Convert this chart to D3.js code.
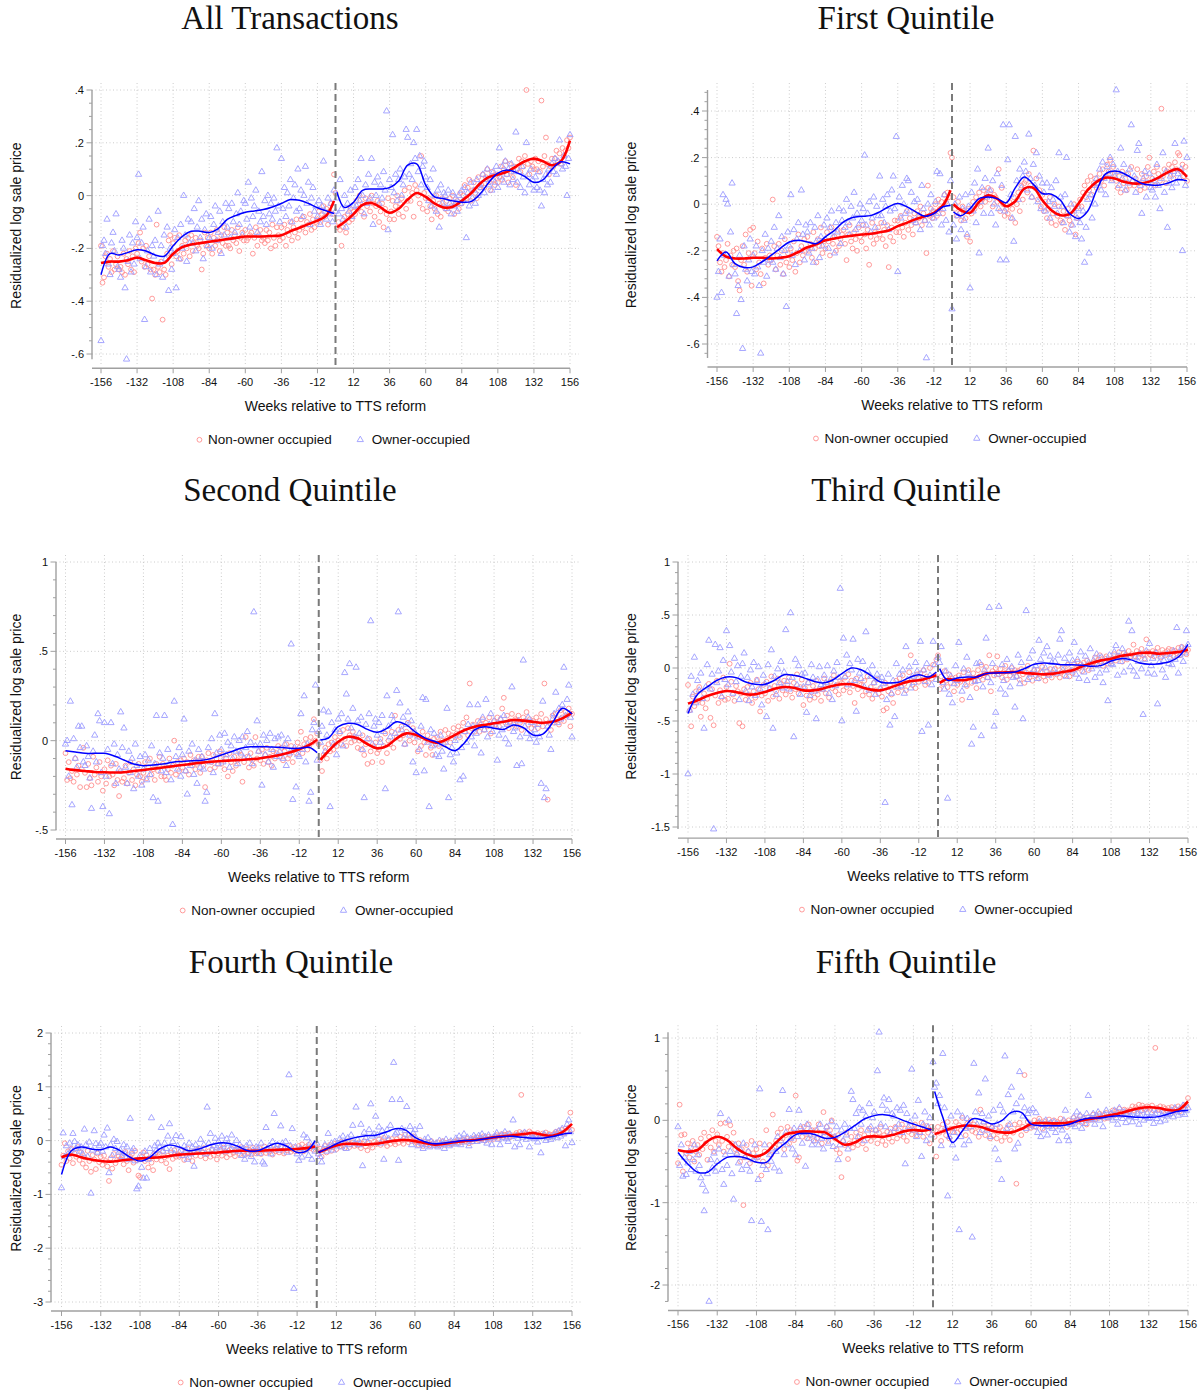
<!DOCTYPE html>
<html>
<head>
<meta charset="utf-8">
<script src="https://cdn.jsdelivr.net/npm/d3@7"></script>
<style>
  body { margin: 0; background: #fff; }
  text { font-family: "Liberation Sans", Arial, Helvetica, sans-serif; fill: #111; }
  .title { font-family: "Liberation Serif", "Times New Roman", serif; font-size: 33px; }
</style>
</head>
<body>
<script>
// weekly means, weeks -156..156, in hundredths of a log point
const weeks = d3.range(-156, 157);
const xTicks = d3.range(-156, 157, 24);
// knots of the local fits, drawn separately on each side of the reform
const fitWeeksPre = [...d3.range(-156, 0, 6), -1];
const fitWeeksPost = [1, ...d3.range(6, 157, 6)];

const titles = ["All Transactions", "First Quintile", "Second Quintile",
                "Third Quintile", "Fourth Quintile", "Fifth Quintile"];
const yTicks = [
  [.4, .2, 0, -.2, -.4, -.6],
  [.4, .2, 0, -.2, -.4, -.6],
  [1, .5, 0, -.5],
  [1, .5, 0, -.5, -1, -1.5],
  [2, 1, 0, -1, -2, -3],
  [1, 0, -1, -2]
];
const yMinor = [.05, .04, .1, .1, .2, .2];

// ---- All transactions
const allNon = [
  -19,-33,-31,-23,-22,-27,-24,-29,-21,-28,-26,-23,
  -28,-27,-29,-22,-30,-24,-26,-21,-28,-23,-29,-20,
  -22,-18,-14,-25,-20,-27,-19,-26,-23,-28,-39,-28,
  -30,-11,-27,-29,-25,-47,-28,-30,-22,-17,-15,-26,
  -18,-16,-23,-21,-15,-24,-19,-22,-17,-20,-16,-23,
  -15,-21,-18,-16,-19,-20,-17,-28,-22,-14,-19,-16,
  -20,-14,-22,-16,-19,-13,-17,-21,-15,-18,-12,-19,
  -14,-19,-20,-13,-17,-15,-18,-12,-21,-16,-14,-17,
  -13,-17,-16,-15,-14,-22,-16,-12,-19,-15,-13,-17,
  -16,-18,-13,-17,-14,-20,-11,-16,-19,-12,-15,-17,
  -12,-16,-11,-19,-13,-15,-10,-17,-12,-14,-9,-16,
  -13,-9,-12,-8,-14,-10,-11,-7,-13,-9,-12,-10,
  -9,-6,-10,-7,-4,-8,-5,-11,-6,-3,-7,8,
  1,
  -12,-10,-13,-19,-12,-8,-14,-7,-10,-5,-9,-6,
  -7,-2,-5,0,-6,-3,-8,-1,-4,-2,-6,0,
  -3,-8,-4,-2,-10,-6,-3,-12,-5,-7,-1,-9,
  -6,-2,-9,-4,0,-7,-3,-1,-8,2,-5,-2,
  3,-2,1,-8,4,2,0,-3,15,-5,1,-1,
  -6,-1,-4,-9,-2,-5,0,-7,-3,-8,-1,-4,
  -5,-2,-6,-1,-4,0,-7,-3,-2,-5,1,-3,
  0,4,-1,3,6,-2,2,5,1,-1,7,3,
  4,8,3,7,10,5,2,9,6,4,8,5,
  7,11,6,10,13,8,5,12,9,7,11,4,
  10,14,9,13,11,15,40,12,8,13,11,10,
  14,10,13,9,36,11,15,22,12,8,11,14,
  11,14,17,13,16,12,18,15,17,21,18,22
];
const allOwn = [
  -55,-19,-17,-22,-9,-26,-30,-18,-14,-21,-7,-27,
  -28,-31,-17,-20,-35,-62,-25,-15,-29,-18,-26,-10,
  -16,8,-24,-18,-12,-47,-27,-21,-9,-29,-19,-23,
  -17,-30,-6,-26,-19,-31,-15,-24,-12,-36,-20,-28,
  -22,-13,-35,-16,-24,-11,-20,0,-15,-25,-9,-18,
  -10,-18,-5,-21,-12,-2,-16,-9,-24,-13,-7,-19,
  -16,-8,-20,-11,-4,-17,-14,-6,-22,-10,-15,-3,
  -12,-5,-16,-3,-10,-14,-7,1,-11,-6,-15,-2,
  -3,-9,5,-12,-1,-8,-4,2,-14,-6,-10,9,
  -8,-2,-11,0,-7,-3,-9,-1,-6,18,-4,-10,
  14,-5,3,-8,1,-4,6,-10,-1,4,-6,10,
  -5,2,-8,0,11,-3,5,-11,-1,3,-6,-4,
  -8,-2,-11,-4,13,-6,-9,-1,-7,-3,-10,2,
  -6,
  -1,-7,6,-5,-9,0,-12,-3,-6,2,-8,-4,
  3,-4,6,-2,14,0,-7,4,-3,8,-1,14,
  -11,5,0,7,-3,4,-1,9,2,32,-13,6,
  3,23,1,8,-2,6,10,0,4,7,25,22,
  8,12,6,20,14,25,9,15,4,11,13,7,
  3,-2,6,-4,10,0,-6,2,-12,4,-3,1,
  0,-5,2,-3,-7,1,-4,-1,-6,0,-3,2,
  -2,3,-16,1,-4,5,-1,2,-3,6,0,4,
  3,8,1,6,10,4,7,2,9,5,11,3,
  18,7,11,5,13,8,10,4,12,6,9,24,
  5,9,3,11,7,1,20,8,4,10,6,2,
  7,3,9,2,-4,6,1,8,4,10,5,12,
  9,14,8,13,21,12,10,15,11,0,14,23
];
const allNonFitPre = [-25.5,-25,-25,-24.5,-23.5,-24.5,-25.5,-25.5,-22,-19.5,-18.5,-18,-17.5,-17,-16.5,-16,-15.5,-15.5,-15.5,-15.3,-15,-13.5,-12.2,-10.8,-9.5,-7.5,-2];
const allNonFitPost = [-12,-10,-7,-3.5,-2.8,-4.5,-6.5,-5,-1.5,1,-.5,-3,-4.5,-4.2,-2,.8,4.5,7,8,9,11,13,14,13,11.5,13,20.8];
const allOwnFitPre = [-30,-22,-22.5,-21.5,-20.5,-21,-22.5,-23,-19,-15.5,-13.5,-13.5,-14,-12.5,-9,-7.5,-6.3,-5.8,-5.3,-4.3,-3,-1.5,-1.8,-3,-4.6,-5.8,-6.8];
const allOwnFitPost = [1.3,-4.5,-2.5,2,2.5,2.5,3,5.5,11.5,12,4,-.5,-1.2,-2,-2.5,-2.3,.5,5,8.5,9.7,8.8,7.2,5,6,10,12.8,12];

// ---- First quintile
const q1Non = [
  -14,-18,-25,-29,-21,-27,-24,-17,-31,-22,-26,-20,
  -27,-19,-33,-37,-24,-18,-26,-13,-29,-21,-11,-35,
  -10,-21,-28,-16,-25,-30,-19,-34,-23,-17,-26,-22,
  -24,2,-18,-28,-22,-17,-26,-20,-30,-15,-25,-21,
  -27,-19,-24,-16,-29,-21,-13,-25,-18,-22,-15,-20,
  -14,-20,-17,-23,-12,-19,-25,-15,-18,-10,-21,-16,
  -19,-12,-16,-22,-10,-17,-14,-20,-11,-18,-15,-13,
  -11,-17,-24,-13,-9,-16,-19,-12,-15,-20,-10,-14,
  -16,-9,-13,-19,-11,-26,-14,-8,-17,-12,-15,-10,
  -13,-8,-15,-11,-18,-9,-27,-14,-10,-16,-7,-12,
  -7,-12,-5,-10,-14,-8,-3,-11,-6,-9,-13,-4,
  -8,-3,-6,-1,-9,-4,-7,-21,8,-5,-2,-6,
  -3,0,-5,2,-2,1,-4,4,1,5,3,22,
  20,
  3,-2,-5,1,-4,-7,-1,-3,-6,-14,-2,-16,
  -4,1,-2,3,0,5,-1,2,6,1,4,7,
  2,6,-1,4,3,1,15,-3,7,0,-5,-2,
  -4,1,-6,-2,3,-8,0,5,-3,8,2,9,
  10,5,13,8,3,23,7,11,2,6,-1,4,
  -3,1,-6,-2,3,-8,-4,0,-9,-5,-1,-7,
  -8,-3,-11,-5,-2,-7,-9,-4,0,-13,-6,-1,
  2,-1,5,8,3,10,6,12,4,9,11,7,
  9,13,10,15,8,12,17,14,19,11,16,13,
  10,7,12,5,14,9,11,6,13,8,16,10,
  8,11,15,9,6,13,10,7,12,16,20,9,
  11,14,8,16,13,10,41,12,15,9,14,17,
  13,16,11,18,15,22,21,14,17,12,16,10
];
const q1Own = [
  -40,-29,-15,-38,4,-22,2,0,-31,-12,9,-26,
  -30,-47,-35,-22,-41,-62,-18,-28,-33,-24,-15,-29,
  -22,-30,-18,-27,-35,-64,-20,-25,-13,-31,-19,-24,
  -16,-25,-10,-28,-19,-5,-23,-14,-30,-20,-44,-12,
  -18,4,-22,-11,-26,-15,-8,-20,6,-13,-24,-9,
  -12,-21,-8,-19,-25,-10,-16,-5,-23,-14,-18,-9,
  -15,-6,-19,-10,-3,-14,-21,-8,-12,-2,-17,-7,
  -3,-10,2,-8,-13,-1,-6,5,-11,-4,-9,0,
  -7,-2,21,-9,-4,1,-12,-6,3,-10,-1,-5,
  12,-5,2,-8,-1,4,-11,-3,6,12,-2,29,
  -29,3,-6,8,0,-4,11,10,-3,5,-7,1,
  -8,2,-5,-11,8,-2,-7,-66,0,-9,4,-3,
  -6,1,14,-4,13,-9,-2,4,-7,0,-12,10,
  -45,
  -9,0,-15,-5,3,-11,-2,-7,4,-13,-1,-36,
  5,-3,9,-8,15,-21,1,7,-4,11,3,24,
  6,-4,10,0,-9,13,-2,-24,8,34,-3,-24,
  19,34,4,-6,-16,29,10,2,15,7,12,18,
  14,6,30,11,3,17,8,22,1,12,-2,9,
  5,-3,9,1,-6,7,2,-1,10,-4,22,3,
  -1,-8,4,20,-5,-12,0,-9,-3,-14,-6,-2,
  -8,-15,-3,-25,-10,2,-21,4,-6,8,0,11,
  9,15,6,18,11,4,16,13,20,10,17,12,
  49,14,8,24,11,17,6,13,9,15,34,10,
  12,5,23,26,8,-4,11,14,3,9,13,7,
  6,10,3,17,8,-2,11,22,5,14,-10,9,
  12,7,14,26,9,13,11,15,-20,27,8,20
];
const q1NonFitPre = [-19.3,-22.5,-23.3,-23.3,-23,-23,-23.3,-23,-22.3,-20.5,-18.5,-17.2,-15.5,-14.7,-14,-13.5,-13,-12.7,-12,-11.3,-9.4,-8,-6.4,-5.2,-3.7,-.5,6];
const q1NonFitPost = [0,-2.6,-3.7,1,3.8,2.4,-.9,1.3,6.7,7,1.7,-2.6,-4.7,-4.3,.3,6,9.6,11.4,11,9.6,8.9,9,9.9,11.7,13.9,15,11.7];
const q1OwnFitPre = [-24.3,-20.5,-25.5,-27.2,-26.9,-24.7,-21.9,-19,-16.2,-15.5,-16.2,-16.9,-14,-11.2,-7.6,-5.7,-5.2,-4.9,-3.3,-1.1,.3,-1.1,-3.3,-5.2,-4,-1.1,-.4];
const q1OwnFitPost = [-3.3,-5,-1.9,2.4,3.1,2.4,.6,7,11.7,8.5,4.6,4.3,1.7,-4,-6.1,-3,6,13,14.2,13.2,11,8.9,8.2,8.2,9.2,10.6,10];

// ---- Second quintile
const q2Non = [
  -7,-22,-12,-21,-17,-23,-10,-19,-14,-26,-16,-4,
  -18,-26,-13,-21,-25,-9,-19,-15,-23,-12,-20,-28,
  -16,-24,-11,-20,-14,-19,-25,-13,-22,-31,-17,-23,
  -21,-14,-24,-18,-12,-22,-16,-25,-19,-13,-20,-23,
  -18,-12,-21,-15,-10,-19,-16,-22,-13,-17,-9,-20,
  -13,-20,-22,-16,-10,-18,-14,0,-19,-12,-17,-11,
  -15,-10,-17,-12,-19,-8,-14,-11,-16,-13,-9,-18,
  -9,-14,-26,-11,-7,-16,-12,-8,-15,-10,-13,-6,
  -13,-8,-16,-10,-20,-7,-12,-17,-9,-14,-11,-6,
  -8,-23,-12,2,-9,-15,-7,-11,-14,2,-10,-6,
  -11,-5,-13,-8,-4,-12,-9,-14,-6,-10,-7,-3,
  -9,-4,-11,-6,-2,-10,-8,-3,-12,-5,-7,-1,
  -4,5,-7,-2,1,-5,-3,2,-1,12,0,4,
  -2,
  -11,-17,-8,-4,-10,-2,-6,-1,-5,2,-3,0,
  4,-2,6,1,-3,7,3,-1,5,0,2,-4,
  0,-5,3,-8,-2,-13,1,-6,-12,-3,-1,-7,
  -5,1,-12,-3,4,-7,0,-2,5,-4,14,2,
  6,1,8,3,-2,5,10,0,4,7,-1,3,
  -6,2,-3,5,-1,-8,3,0,-4,-8,1,-2,
  2,-3,5,0,-2,6,1,4,-1,3,7,2,
  4,8,2,6,10,5,13,3,32,7,9,5,
  7,11,5,9,12,6,10,8,13,4,9,11,
  9,13,8,12,18,24,10,14,7,11,15,9,
  12,8,14,10,6,13,11,16,9,12,7,11,
  9,13,7,11,15,8,32,12,-33,10,6,14,
  10,15,12,9,17,13,11,16,14,18,8,15
];
const q2Own = [
  -2,0,-20,22,-36,1,-10,-15,8,-4,8,-12,
  -14,-3,-9,-21,-38,-6,3,-12,15,11,-18,-37,
  10,-20,-5,-41,10,-13,-2,-24,-8,-16,16,-4,
  7,-15,-24,-6,-18,-10,-27,-2,-14,-20,-9,-25,
  -16,-8,-22,-11,-19,-3,-32,-13,14,-34,-7,-17,
  -10,14,-18,-5,-13,-22,-47,22,-9,-16,-4,-20,
  -8,12,-17,-30,-6,-14,-2,-19,-11,-24,-5,-15,
  -9,-16,-34,-29,-4,-12,1,-18,15,-7,-13,3,
  -5,-12,4,-8,-1,-15,-3,-10,2,-6,-13,0,
  -7,2,-10,-4,5,-9,-1,-13,72,-3,11,-6,
  -2,-25,3,-8,0,-12,4,-5,-15,1,-9,2,
  -6,3,-10,-2,-14,1,-7,54,-33,-4,-26,-8,
  -9,15,-5,25,-12,-2,-34,-29,6,10,31,-11,
  5,
  -1,8,17,-6,3,16,-37,10,-2,6,-8,12,
  5,15,-3,38,26,12,43,7,18,2,41,11,
  4,13,-5,-32,9,1,15,67,-2,8,12,3,
  10,-1,14,5,-27,25,8,2,14,11,4,28,
  72,21,6,13,-2,9,16,3,11,-12,5,-18,
  2,-5,8,24,-17,23,-1,-37,6,-3,4,-8,
  -2,-9,3,-6,-16,-1,18,-32,-8,-4,-12,0,
  -7,3,-22,-4,-20,5,-1,9,20,2,8,-3,
  4,20,10,-7,13,6,23,2,9,15,5,11,
  8,-11,3,12,6,14,1,9,-2,10,30,5,
  7,-14,11,2,-13,45,8,4,13,1,10,3,
  6,-1,9,2,-24,22,-32,-27,8,3,-5,12,
  15,27,10,18,12,20,41,14,23,31,13,2
];
const q2NonFitPre = [-15.7,-16.5,-17,-17.5,-17.7,-17.8,-17.7,-17,-16.4,-15.7,-15,-14.3,-13.6,-13,-12.3,-11.8,-11.4,-11.1,-10.8,-10.4,-9.8,-9,-8,-6.6,-4.8,-2.5,.5];
const q2NonFitPost = [-10.8,-5.8,-.6,2.2,1.3,-1.9,-4.3,-3,1.3,4.1,3.2,.7,-1.1,.4,3.2,6,7.8,8.8,9.7,10.6,11.6,11.2,10.6,10,10.6,12.5,15.7];
const q2OwnFitPre = [-5.6,-6.3,-7.1,-7.1,-7.1,-8.6,-10.8,-13.1,-14,-13.6,-13.1,-12.1,-11.6,-11.2,-11,-9.9,-8,-6.2,-4.3,-3.4,-3.4,-3.5,-3.7,-4.3,-4.3,-3.7,-6.7];
const q2OwnFitPost = [.4,1.5,7.8,9.7,9.1,6.3,4.7,6.9,10.6,8.8,4.5,1.3,-.6,-3.4,-5.6,-1,6,7.8,6.9,6.3,8.8,7.3,3.2,3.7,10,18.1,14.9];

// ---- Third quintile
const q3Non = [
  -16,-40,-55,-27,-36,-22,-31,-18,-46,-33,-24,-38,
  -29,-15,-47,-20,-54,-26,-12,-33,-21,-28,-9,-30,
  -18,-29,4,-13,-25,-31,-17,-22,-52,-24,-55,-20,
  -30,-18,-25,-14,-33,-22,-28,-11,-20,-41,-26,-16,
  -24,-13,-31,-19,-8,-27,-17,-22,-10,-29,-15,-21,
  -12,-25,-16,-9,-22,-28,-14,-20,-6,-24,-18,-11,
  -35,-19,-26,-14,-30,-23,-17,-28,-12,-25,-20,-31,
  -20,-10,-24,-15,-28,-13,-19,-7,-22,-16,-25,-12,
  -14,-21,-9,-18,-6,-23,-12,-17,-33,-10,-20,-15,
  -16,-26,-12,-22,-8,-25,-18,-29,-14,-21,-11,-24,
  -19,-27,-40,-14,-38,-22,-16,-25,-33,-18,-12,-23,
  -10,-18,-7,-15,-21,-12,-4,12,-16,-9,-19,-6,
  -13,-5,-11,-2,-16,-8,-14,0,-10,3,-7,8,
  12,
  -20,-8,-15,-3,-12,-18,-6,-14,-10,-22,-9,-16,
  -7,-13,-30,-4,-11,-17,-2,-9,-14,-5,-12,-19,
  -2,-8,3,-11,-5,1,-9,12,-22,-3,-7,0,
  11,-6,-1,-9,-4,2,-11,-3,-7,0,-5,-2,
  -8,-3,-11,-1,-6,-14,-4,2,-9,-5,-12,-2,
  -7,-2,-10,-4,1,-8,-12,-3,-6,-1,-9,-5,
  -1,-6,2,-9,-4,0,-7,-3,3,-8,-2,-5,
  4,-1,6,0,3,-3,5,1,7,-2,4,2,
  5,10,3,8,12,6,2,9,11,4,8,6,
  9,13,7,11,15,10,6,14,12,8,16,11,
  13,22,11,16,10,14,18,12,9,27,15,13,
  12,16,11,15,19,13,10,17,14,12,16,18,
  13,17,11,16,14,19,12,20,15,18,13,17
];
const q3Own = [
  -100,-40,-8,-25,10,-33,-12,-21,-5,-29,-57,-18,
  3,26,-20,-6,-152,22,-14,-3,19,-27,7,-11,
  35,-16,21,-4,-24,9,-13,2,-30,-8,4,14,
  -22,-9,-31,-2,-18,5,-26,-12,1,-20,-35,-7,
  -15,-46,3,-20,17,-57,-8,-25,-1,-14,6,-19,
  -4,36,-13,-20,52,-9,-65,8,-16,2,-25,-6,
  -18,-5,-42,-14,-26,3,-9,-22,-48,-11,1,-16,
  -20,-7,-14,2,-24,-11,-30,-3,-17,5,-9,75,
  -50,28,-8,12,-16,4,-2,27,-12,-41,8,-5,
  -10,6,-18,34,-3,-21,-8,2,-14,-25,-6,-11,
  -20,-9,-15,-127,-30,-6,-54,-24,-12,-46,4,-18,
  -6,-17,-2,-24,20,-11,1,-19,-8,-14,5,-3,
  -9,25,-60,-2,-13,4,-54,-7,-16,25,3,-11,
  10,
  5,20,-14,-20,-3,-123,-25,-8,-33,-15,2,-12,
  24,-10,-22,-1,-16,10,-5,-28,-72,-56,-13,4,
  -12,5,-64,-18,-2,28,-9,57,-14,4,-55,-42,
  -6,58,-20,3,-12,-25,8,-3,-18,1,-9,-37,
  -8,12,-15,5,-48,-3,54,-11,9,-6,16,-2,
  2,-10,26,8,-4,14,0,20,-7,11,5,-2,
  6,-5,12,27,35,-2,9,-8,4,14,-3,7,
  24,-6,8,-10,15,2,-4,11,-12,5,18,-1,
  7,-9,13,2,-5,10,-14,6,-2,-31,12,4,
  3,15,21,-7,11,6,18,-4,12,9,44,1,
  35,-3,10,-8,6,13,-1,-44,8,16,-5,23,
  2,9,-6,14,-34,5,11,-2,7,-9,13,4,
  10,3,16,8,38,-5,12,19,6,14,35,22
];
const q3NonFitPre = [-33.6,-30.5,-26.4,-23.6,-21.7,-22.6,-24.8,-24.8,-22.6,-19.5,-17.9,-18.6,-21.1,-21.1,-19.5,-17,-15.4,-15.4,-17.9,-20.4,-21.1,-18.6,-15.4,-12.6,-11.6,-9.4,-6.9];
const q3NonFitPost = [-14,-10.5,-11.6,-11,-8.5,-5.3,-4.4,-4.1,-3.8,-4.7,-5.3,-6,-5.3,-3.8,-2.2,1.6,4.7,7.2,8.8,11.3,12.6,14.2,14.5,13.5,14.2,15.1,17.3];
const q3OwnFitPre = [-43,-24.8,-17.9,-11.6,-8.5,-9.1,-13.2,-15.4,-15.4,-11.6,-6.3,-6.9,-9.1,-12.3,-14.2,-11.6,-5.3,0,-1.6,-6.9,-13.2,-14.2,-13.2,-9.1,-6.3,-8.5,-3.8];
const q3OwnFitPost = [-.6,-11.6,-9.4,-8.5,-8.5,-5.3,-4.7,-4.4,-3.8,-.6,3.5,4.7,4.1,3.1,3.1,2.5,1.6,2.5,6.6,8.8,7.9,4.7,3.5,4.1,5.7,10.4,22.3];

// ---- Fourth quintile
const q4Non = [
  -45,-28,-5,-38,-20,-33,-15,-42,-24,-30,-12,-36,
  -22,-43,-31,-50,-19,-38,-58,-27,-35,-53,-24,-40,
  -30,-45,-28,-38,-48,-75,-33,-52,-25,-42,-36,-29,
  -34,-28,-44,-21,-38,-55,-30,-25,-41,-19,-36,-65,
  -68,-30,-22,-38,-27,-50,-33,-41,-55,-24,-35,-29,
  -25,-37,-20,-31,-42,-28,-53,-22,-34,-18,-30,-26,
  -30,-19,-27,-36,-22,-15,-31,-24,-38,-20,-28,-17,
  -18,-29,-22,-14,-33,-25,-20,-30,-16,-27,-21,-35,
  -24,-17,-28,-13,-22,-31,-19,-26,-15,-23,-29,-18,
  -16,-25,-12,-21,-27,-15,-23,-18,-26,-13,-20,-24,
  -22,-14,-25,-18,-11,-23,-16,-21,-13,-26,-17,-20,
  -15,-22,-11,-19,-24,-13,-18,-9,-21,-16,-12,-20,
  -18,-10,-15,-7,-20,-12,-16,-8,-14,-11,-17,-9,
  -15,
  -25,-15,-30,-18,-10,-22,-14,-8,-19,-12,-6,-16,
  -4,-11,-2,-9,-14,-5,-1,-12,-7,-3,-10,-6,
  -9,-3,-14,-6,-1,-11,-18,-4,-8,-13,-2,-7,
  -5,2,-8,-1,5,-4,-10,1,-6,3,-2,-7,
  3,-4,7,0,-6,11,2,-3,5,-1,8,-2,
  -3,-8,1,-6,-10,-2,-7,-4,-9,-1,-5,-8,
  -7,-3,-9,-5,-1,-8,-4,-6,-2,-7,-5,-3,
  -2,1,-4,0,-3,2,-1,3,-5,1,-2,4,
  2,6,1,5,3,8,0,4,7,2,6,3,
  6,10,5,9,12,7,11,8,13,6,10,9,
  10,14,11,16,85,12,15,13,9,17,14,12,
  12,9,14,11,8,13,10,15,9,12,7,11,
  12,16,14,18,15,20,13,22,17,24,52,20
];
const q4Own = [
  -88,14,-30,-10,-25,-5,-18,13,-2,-15,-8,-20,
  -12,-25,21,-8,-30,-3,-98,-18,18,-6,-22,-10,
  -5,-20,10,-12,23,-60,-8,-28,2,-15,-2,-22,
  -18,-30,-8,-25,-12,-35,41,-20,-15,-38,-90,-85,
  -28,-50,-70,-20,-70,-35,-15,42,-25,-10,-18,-5,
  -12,24,-20,-5,-15,8,31,-18,-2,-25,9,-10,
  -22,7,-28,-10,-18,-35,-5,-25,-12,-48,-8,-20,
  -15,2,-20,-8,-25,62,-5,13,-18,-10,4,-14,
  -2,-12,8,-8,-20,3,-5,-15,10,-10,-18,0,
  -20,-8,-28,-15,-35,-10,-25,-5,-30,-18,-40,-12,
  -14,-24,-5,-40,-44,24,-18,-10,-25,-2,50,-15,
  -8,-18,27,-5,-15,-2,-22,122,-10,22,-275,-12,
  -25,-37,-15,-31,10,-18,5,-28,-5,-35,-12,-20,
  -5,
  -25,-30,-40,-15,-8,-20,13,-12,-5,-18,-2,-10,
  -6,3,-12,8,-3,-15,5,-8,10,28,-5,62,
  2,-8,30,-47,15,5,-3,20,68,8,12,45,
  10,25,-5,18,-35,8,20,3,28,76,145,12,
  15,-37,76,22,5,18,63,10,26,-8,14,20,
  3,-10,26,-5,-15,2,-8,5,-12,-2,-6,-9,
  -5,-12,0,-8,-3,-15,2,-6,-10,-1,-4,-7,
  4,-5,8,-8,2,12,-3,6,-10,3,-2,9,
  5,-2,9,3,12,0,7,-5,10,4,-8,6,
  8,14,2,-8,10,5,16,3,-2,12,7,38,
  -12,9,4,-8,12,6,15,2,10,-12,8,5,
  3,10,-3,6,-23,8,12,0,5,9,2,7,
  10,15,5,18,8,22,12,-10,30,38,16,-4
];
const q4NonFitPre = [-31,-26,-31,-35,-38,-39,-37,-35,-33,-32,-31,-28.5,-26,-25,-24,-23,-22,-20.5,-19,-19,-19,-18,-17,-16.5,-15.5,-14,-11];
const q4NonFitPost = [-22,-15.5,-9,-6,-6,-7.5,-6,-3,0,1,-1,-4.5,-7.5,-6,-3,-1,1,3,6,8,10,12,14,11,9,15.5,31];
const q4OwnFitPre = [-63,-19,-12,-15.5,-17,-12,-19,-31,-38,-31,-15.5,-8,-12,-19,-15.5,-9,-4.5,-5,-11,-19,-19,-11,-5,-11,-22,-19,0];
const q4OwnFitPost = [-22,-15.5,-6,1,6,9,10,15.5,22,20,6,-2,-6,-4.5,-2,0,0,3,6,7.5,8,6,4.5,4.5,7.5,12,14];

// ---- Fifth quintile
const q5Non = [
  -52,19,-18,-62,-17,-40,-28,-45,-33,-25,-50,-38,
  -30,-42,-22,-35,-15,-28,-48,-20,-33,-12,-38,-25,
  -17,-30,-4,-25,-38,-3,-20,-32,-6,-28,-15,-35,
  -42,-28,-50,-35,-103,-45,-30,-38,-52,-25,-40,-48,
  -35,-45,-28,-67,-50,-38,-12,-55,-30,-42,7,-33,
  -25,-15,-30,-10,-22,-35,-18,-8,-28,-12,-20,-24,
  30,-49,-45,-10,-20,-8,-15,-22,-5,-18,-12,-25,
  -12,-22,-5,-18,-28,10,-15,-8,-25,-12,0,-20,
  -22,-35,-18,-40,-69,-25,-30,-15,-47,-28,-20,-33,
  -25,-15,-30,-20,-12,-28,-18,-35,-22,-10,-25,-16,
  -20,-12,-28,-15,-8,-25,-18,-30,-14,-22,-10,-26,
  -15,-8,-22,-12,-18,-5,-20,-10,-25,-14,-6,-17,
  -12,-5,-18,-9,-14,-3,-20,-10,-7,-15,-28,-8,
  -12,
  -20,-44,-8,-15,-25,-5,-12,-18,-2,-22,-10,-14,
  -10,-2,-15,-6,-12,3,-8,-18,-4,-9,0,-13,
  -5,-15,-8,-20,13,-12,-3,-18,-10,-6,-22,-9,
  -18,-10,-22,-14,-8,-25,-12,-20,-16,-6,-24,-13,
  -15,-5,-77,-10,-3,-18,-8,55,-12,-2,-6,-9,
  -6,0,-8,-3,2,-5,-10,-1,-4,-7,1,-3,
  -5,0,-7,-2,-4,2,-6,-1,-3,-8,0,-4,
  -2,3,-4,1,-1,5,-3,2,0,-5,4,1,
  2,7,1,5,3,8,4,6,2,9,3,5,
  8,12,6,11,9,14,7,10,13,8,12,11,
  13,17,12,16,14,19,11,18,15,13,17,16,
  14,18,12,88,15,13,17,11,16,14,12,15,
  12,16,10,14,13,17,11,15,14,19,18,27
];
const q5Own = [
  -8,-55,-30,-68,-45,-66,-52,-38,-60,-48,-30,-62,
  -42,-55,-70,-78,-110,-86,-65,-220,-48,-58,-40,-62,
  -50,-35,8,-60,-78,-42,-55,0,-38,-65,-96,-30,
  -40,-52,-35,-60,-28,-45,-55,-38,-62,-122,-48,-30,
  -45,-72,38,-123,-55,-30,-60,-133,-42,-50,-35,-58,
  -38,-20,-62,-25,36,-42,-15,-30,13,-22,-35,-10,
  -42,-20,12,-8,-28,-15,-56,-5,-22,-12,-30,-18,
  -25,-12,-30,-5,-22,-35,-15,-8,-28,-18,-2,-32,
  -20,-8,-48,-30,-12,-25,-5,-18,-35,-10,35,25,
  -10,8,-20,15,-5,12,-25,5,-12,20,-8,3,
  10,-12,60,107,-5,18,27,-8,12,25,-15,8,
  5,-10,15,-5,12,-15,18,-53,8,-8,-2,62,
  -12,5,-20,24,-15,-44,-5,10,-25,-8,3,-18,
  71,
  40,45,20,30,-31,81,15,-10,-92,-20,5,-30,
  -15,-46,10,-133,-20,5,-30,-10,2,-25,-8,-142,
  69,10,-5,33,-15,8,-2,50,-12,5,-20,-8,
  12,-35,-5,-48,18,-72,10,78,-10,31,-5,40,
  10,-35,20,-28,59,28,5,15,-10,8,12,-5,
  14,-8,9,-15,-2,-20,-5,-12,0,-18,-8,-3,
  -10,-2,-15,-5,-25,-8,-12,0,12,-20,-25,-5,
  -5,4,-8,10,-2,6,-10,3,-4,8,30,0,
  2,8,-5,6,10,0,4,-8,7,12,3,5,
  8,0,12,3,-5,15,6,2,10,-3,8,4,
  5,-2,10,3,8,-5,6,12,0,4,9,2,
  3,9,-4,8,2,12,-2,6,10,0,5,7,
  8,12,4,15,10,6,14,9,18,7,12,15
];
const q5NonFitPre = [-36,-38,-36,-25.5,-20,-24,-34,-41,-44,-39,-27,-17,-14.6,-13.4,-13.8,-14.6,-22.7,-29.6,-27,-20.7,-19.5,-20,-17.4,-13.4,-11.8,-12.6,-10.5];
const q5NonFitPost = [-16.6,-13.4,-9.3,-6.5,-6.5,-8.5,-12.6,-14.6,-14.6,-10.5,-4.5,-3.2,-3.6,-3.6,-2.4,-.4,1.6,3.6,6,8.5,11.8,14.6,15.8,15,12.6,12.6,23];
const q5OwnFitPre = [-39,-53,-63,-63,-53,-45,-44,-46,-51,-51,-37,-27,-17.4,-15.8,-17.4,-21.9,-20.7,-14.6,-6.5,1.6,5.7,6.9,4.5,-.4,-4.5,-8.5,-11.8];
const q5OwnFitPost = [35,3.6,-27,-12.6,1.6,.4,-4.5,-.4,9.7,9.7,-4.5,-6.5,-6.5,-6.5,-4.5,.4,2.8,2.8,4.5,5.7,4.5,3.6,3.6,4.5,7.7,10.9,11.8];

const panels = [
  { non: allNon, own: allOwn, nonFit: [allNonFitPre, allNonFitPost], ownFit: [allOwnFitPre, allOwnFitPost] },
  { non: q1Non, own: q1Own, nonFit: [q1NonFitPre, q1NonFitPost], ownFit: [q1OwnFitPre, q1OwnFitPost] },
  { non: q2Non, own: q2Own, nonFit: [q2NonFitPre, q2NonFitPost], ownFit: [q2OwnFitPre, q2OwnFitPost] },
  { non: q3Non, own: q3Own, nonFit: [q3NonFitPre, q3NonFitPost], ownFit: [q3OwnFitPre, q3OwnFitPost] },
  { non: q4Non, own: q4Own, nonFit: [q4NonFitPre, q4NonFitPost], ownFit: [q4OwnFitPre, q4OwnFitPost] },
  { non: q5Non, own: q5Own, nonFit: [q5NonFitPre, q5NonFitPost], ownFit: [q5OwnFitPre, q5OwnFitPost] }
];

// pixel frame of each panel: y axis x, x-scale ends, two y anchors
const layout = [
  { axisX: 92,  xL: 101,  xR: 570,  yA: .4, pyA: 90,   yB: -.6, pyB: 354,  cx: 290, ty: 29,  yTitleX: 16 },
  { axisX: 707.5, xL: 717, xR: 1187, yA: .4, pyA: 111, yB: -.6, pyB: 344,  cx: 906, ty: 29,  yTitleX: 631 },
  { axisX: 56,  xL: 65.5, xR: 572,  yA: 1,  pyA: 562,  yB: -.5, pyB: 830,  cx: 290, ty: 501, yTitleX: 16 },
  { axisX: 678, xL: 688,  xR: 1188, yA: 1,  pyA: 562,  yB: -1.5, pyB: 827, cx: 906, ty: 501, yTitleX: 631 },
  { axisX: 51,  xL: 61.5, xR: 572,  yA: 2,  pyA: 1033, yB: -3, pyB: 1302,  cx: 291, ty: 973, yTitleX: 16 },
  { axisX: 668, xL: 678,  xR: 1188, yA: 1,  pyA: 1038, yB: -2, pyB: 1285,  cx: 906, ty: 973, yTitleX: 631 }
];

const RED_PT = "#ff9090", BLUE_PT = "#9c9cff", AXIS = "#a0a0a0", GRID = "#cccccc";
const fmt = v => String(v).replace(/^(-?)0\./, "$1.");

const svg = d3.select("body").append("svg")
    .attr("width", 1200)
    .attr("height", 1393);

const tri = d3.symbol(d3.symbolTriangle, 17);

panels.forEach((p, i) => {
  const L = layout[i];
  const g = svg.append("g");
  const x = d3.scaleLinear().domain([-156, 156]).range([L.xL, L.xR]);
  const y = d3.scaleLinear().domain([L.yA, L.yB]).range([L.pyA, L.pyB]);

  const vals = p.non.concat(p.own).map(v => v / 100);
  const lo = Math.min(d3.min(vals), d3.min(yTicks[i]));
  const hi = Math.max(d3.max(vals), d3.max(yTicks[i]));
  const top = y(hi) - 7, base = y(lo) + 9, right = L.xR + 9;

  // dotted grid
  g.append("g").selectAll("line").data(yTicks[i]).join("line")
      .attr("x1", L.axisX).attr("x2", right)
      .attr("y1", d => y(d)).attr("y2", d => y(d))
      .attr("stroke", GRID).attr("stroke-dasharray", "1,2.5");
  g.append("g").selectAll("line").data(xTicks).join("line")
      .attr("x1", d => x(d)).attr("x2", d => x(d))
      .attr("y1", top).attr("y2", base - 3)
      .attr("stroke", GRID).attr("stroke-dasharray", "1,2.5");

  // scatter
  g.append("g").selectAll("circle").data(p.non).join("circle")
      .attr("cx", (d, j) => x(weeks[j]))
      .attr("cy", d => y(d / 100))
      .attr("r", 2.4)
      .attr("fill", "none")
      .attr("stroke", RED_PT)
      .attr("stroke-width", 0.9);
  g.append("g").selectAll("path").data(p.own).join("path")
      .attr("d", tri)
      .attr("transform", (d, j) => `translate(${x(weeks[j])},${y(d / 100)})`)
      .attr("fill", "none")
      .attr("stroke", BLUE_PT)
      .attr("stroke-width", 0.9);

  // local fits, broken at the reform
  const line = d3.line()
      .x(d => x(d[0]))
      .y(d => y(d[1] / 100))
      .curve(d3.curveCatmullRom.alpha(0.5));
  [[p.nonFit, "#ff0000", 2.6], [p.ownFit, "#0000ff", 1.5]].forEach(([fit, col, w]) => {
    [d3.zip(fitWeeksPre, fit[0]), d3.zip(fitWeeksPost, fit[1])].forEach(seg => {
      g.append("path").datum(seg)
          .attr("d", line)
          .attr("fill", "none")
          .attr("stroke", col)
          .attr("stroke-width", w);
    });
  });

  // reform date
  g.append("line")
      .attr("x1", x(0)).attr("x2", x(0))
      .attr("y1", top).attr("y2", base)
      .attr("stroke", "#7a7a7a")
      .attr("stroke-width", 2)
      .attr("stroke-dasharray", "7,4");

  // y axis
  g.append("line")
      .attr("x1", L.axisX).attr("x2", L.axisX)
      .attr("y1", y(hi)).attr("y2", y(lo))
      .attr("stroke", AXIS).attr("stroke-width", 1.4);
  const step = yMinor[i];
  const minor = d3.range(Math.ceil(lo / step - 1e-6), Math.floor(hi / step + 1e-6) + 1)
      .map(k => k * step)
      .filter(v => !yTicks[i].some(t => Math.abs(t - v) < 1e-6));
  g.append("g").selectAll("line").data(minor).join("line")
      .attr("x1", L.axisX - 3).attr("x2", L.axisX)
      .attr("y1", d => y(d)).attr("y2", d => y(d))
      .attr("stroke", AXIS);
  g.append("g").selectAll("line").data(yTicks[i]).join("line")
      .attr("x1", L.axisX - 5.5).attr("x2", L.axisX)
      .attr("y1", d => y(d)).attr("y2", d => y(d))
      .attr("stroke", AXIS);
  g.append("g").selectAll("text").data(yTicks[i]).join("text")
      .attr("x", L.axisX - 8)
      .attr("y", d => y(d) + 4)
      .attr("text-anchor", "end")
      .style("font-size", "11px")
      .text(fmt);

  // x axis
  g.append("line")
      .attr("x1", L.axisX).attr("x2", L.xR)
      .attr("y1", base).attr("y2", base)
      .attr("stroke", AXIS).attr("stroke-width", 1.4);
  g.append("g").selectAll("line").data(xTicks).join("line")
      .attr("x1", d => x(d)).attr("x2", d => x(d))
      .attr("y1", base).attr("y2", base + 5)
      .attr("stroke", AXIS);
  g.append("g").selectAll("text").data(xTicks).join("text")
      .attr("x", d => x(d))
      .attr("y", base + 18)
      .attr("text-anchor", "middle")
      .style("font-size", "11px")
      .text(d => String(d));

  const midX = (L.xL + L.xR) / 2;
  g.append("text")
      .attr("x", midX).attr("y", base + 43)
      .attr("text-anchor", "middle")
      .style("font-size", "14px")
      .text("Weeks relative to TTS reform");
  g.append("text")
      .attr("transform", `translate(${L.yTitleX},${(top + base) / 2}) rotate(-90)`)
      .attr("text-anchor", "middle")
      .attr("dominant-baseline", "central")
      .style("font-size", "14px")
      .text("Residualized log sale price");

  g.append("text")
      .attr("class", "title")
      .attr("x", L.cx).attr("y", L.ty)
      .attr("text-anchor", "middle")
      .text(titles[i]);

  // legend
  const ly = base + 76;
  const lg = g.append("g");
  const t1 = lg.append("text").style("font-size", "13.5px").attr("y", ly).text("Non-owner occupied");
  const t2 = lg.append("text").style("font-size", "13.5px").attr("y", ly).text("Owner-occupied");
  const w1 = t1.node().getComputedTextLength(), w2 = t2.node().getComputedTextLength();
  const s = midX - 2 - (51 + w1 + w2) / 2;
  const m1 = s + 2.5, m2 = s + 11 + w1 + 28.5;
  t1.attr("x", s + 11);
  t2.attr("x", m2 + 11.5);
  lg.append("circle").attr("cx", m1).attr("cy", ly - 4.5).attr("r", 2.4)
      .attr("fill", "none").attr("stroke", RED_PT).attr("stroke-width", 0.9);
  lg.append("path").attr("d", tri).attr("transform", `translate(${m2},${ly - 4.5})`)
      .attr("fill", "none").attr("stroke", BLUE_PT).attr("stroke-width", 0.9);
});
</script>
</body>
</html>
